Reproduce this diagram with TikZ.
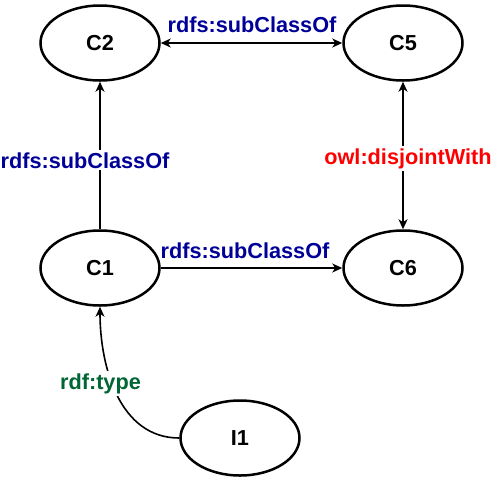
\documentclass[tikz,border=0pt]{standalone}
\usepackage{fontspec}
\setmainfont{Liberation Sans}
\usetikzlibrary{arrows.meta,shapes.geometric}
\definecolor{lblblue}{RGB}{0,0,153}
\definecolor{lblgreen}{RGB}{0,102,51}
\definecolor{lblred}{RGB}{255,0,0}
\begin{document}
\begin{tikzpicture}[x=1pt,y=-1pt,
  cls/.style={ellipse,draw=black,line width=2.5pt,minimum width=119pt,minimum height=75pt,inner sep=0pt,
    font=\fontsize{21.7}{24}\selectfont\bfseries},
  edge/.style={line width=1.6pt,draw=black},
  tip/.style={-{Stealth[length=10pt,width=9pt,inset=3pt]}},
  btip/.style={{Stealth[length=10pt,width=9pt,inset=3pt]}-{Stealth[length=10pt,width=9pt,inset=3pt]}},
  lbl/.style={font=\fontsize{21.7}{24}\selectfont\bfseries,inner sep=2pt,anchor=base},
  wlbl/.style={lbl,fill=white}]
\useasboundingbox (0,0) rectangle (503,480);
\node[cls] (c2) at (100,43) {C2};
\node[cls] (c5) at (403,43) {C5};
\node[cls] (c1) at (100,268) {C1};
\node[cls] (c6) at (403,268) {C6};
\node[cls] (i1) at (240,438) {I1};
\draw[edge,btip] (c2) -- (c5);
\draw[edge,tip] (c1) -- (c2);
\draw[edge,btip] (c5) -- (c6);
\draw[edge,tip] (c1) -- (c6);
\draw[edge,tip] (i1.west) to[out=180,in=-90] (c1.south);
\node[lbl,text=lblblue] (l1) at (252,32) {rdfs:subClassOf};
\node[wlbl,text=lblblue] (l2) at (85,168) {rdfs:subClassOf};
\node[wlbl,text=lblred] (l3) at (408,164) {owl:disjointWith};
\node[lbl,text=lblblue] (l4) at (245,258) {rdfs:subClassOf};
\node[wlbl,text=lblgreen] (l5) at (100.5,389) {rdf:type};
\end{tikzpicture}
\end{document}
